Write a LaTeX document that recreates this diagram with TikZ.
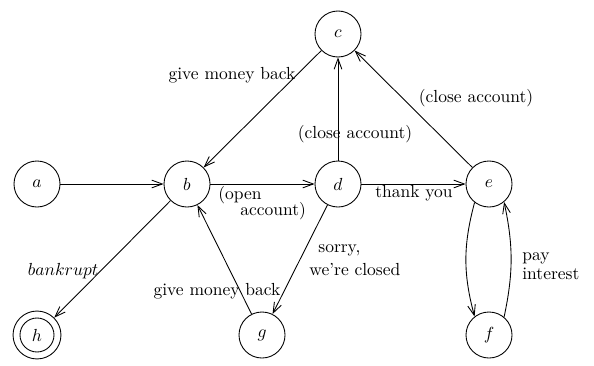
\documentclass[tikz,border=0pt]{standalone}
\usetikzlibrary{arrows.meta}
\begin{document}
\begin{tikzpicture}[x=0.5714pt, y=-0.5714pt,
  state/.style={draw, circle, line width=0.5pt, minimum size=26.3pt, inner sep=0pt},
  trans/.style={line width=0.5pt, -{Straight Barb[length=6pt,width=4.4pt]}},
  lbl/.style={inner sep=0pt, font=\fontsize{10}{11}\selectfont}]
  \useasboundingbox (0,0) rectangle (594,365);

  % states
  \node[state] (a) at (37,184) {$a$};
  \node[state] (b) at (187,184) {$b$};
  \node[state] (c) at (338,34) {$c$};
  \node[state] (d) at (338,184) {$d$};
  \node[state] (e) at (489,184) {$e$};
  \node[state] (f) at (489,335) {$f$};
  \node[state] (g) at (262,335) {$g$};
  \node[state, minimum size=27.4pt] (h) at (37,335) {$h$};
  \draw[line width=0.5pt] (h.center) circle[radius=17];

  % transitions
  \draw[trans] (a) -- (b);
  \draw[trans] (b) -- (d);
  \draw[trans] (d) -- (e);
  \draw[trans] (d) -- (c);
  \draw[trans] (e) -- (c);
  \draw[trans] (c) -- (b);
  \draw[trans] (g) -- (b);
  \draw[trans] (d) -- (g);
  \draw[trans] (b) -- (h);
  \draw[trans] (e.-128) to[out=-105, in=105] (f.128);
  \draw[trans] (f.50) to[out=78, in=-78] (e.-50);

  % labels
  \node[lbl, anchor=west] (l1) at (218,195) {(open};
  \node[lbl, anchor=west] (l2) at (240,211) {account)};
  \node[lbl] (l3) at (414,193) {thank you};
  \node[lbl] (l4) at (355,134) {(close account)};
  \node[lbl] (l5) at (476,98) {(close account)};
  \node[lbl] (l6) at (232,75) {give money back};
  \node[lbl] (l7) at (217,291) {give money back};
  \node[lbl, anchor=west] (l8) at (318,250) {sorry,};
  \node[lbl, anchor=west] (l9) at (309,270) {we're closed};
  \node[lbl] (l10) at (63,271) {$bankrupt$};
  \node[lbl, anchor=west, align=left] (l11) at (522,266) {pay\\interest};
\end{tikzpicture}
\end{document}
